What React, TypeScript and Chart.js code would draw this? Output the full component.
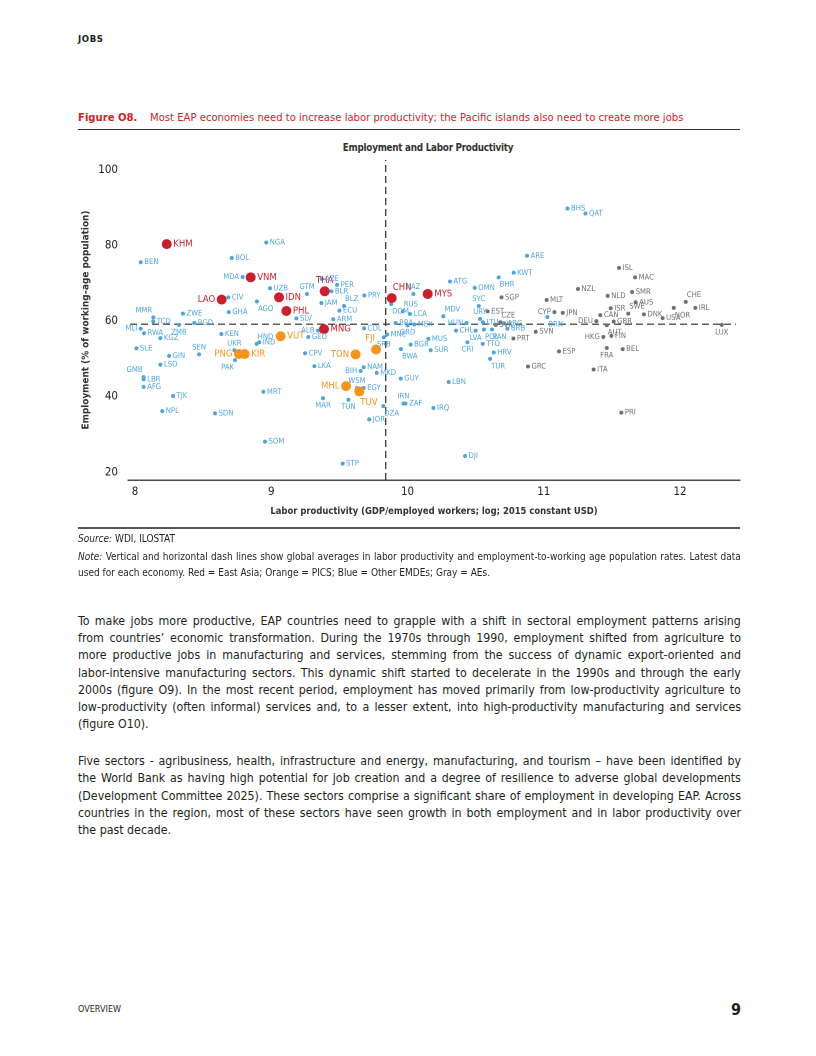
import React, { useEffect, useRef } from 'react';
import { Chart, registerables } from 'chart.js';

Chart.register(...registerables);

// ---------- DATA ----------
const xTicks = [8, 9, 10, 11, 12];
const yTicks = [20, 40, 60, 80, 100];
const globalAvgProductivity = 9.84;
const globalAvgEmployment = 59.2;

// East Asia (red)
const eastAsiaCodes = ['KHM', 'VNM', 'LAO', 'IDN', 'PHL', 'THA', 'MNG', 'CHN', 'MYS'];
const eastAsiaProductivity = [8.233, 8.849, 8.636, 9.057, 9.111, 9.392, 9.387, 9.884, 10.148];
const eastAsiaEmployment = [80.4, 71.6, 65.7, 66.3, 62.7, 67.9, 57.9, 66.1, 67.2];

// Pacific island countries (orange)
const picsCodes = ['PNG', 'KIR', 'VUT', 'TON', 'FJI', 'MHL', 'TUV'];
const picsProductivity = [8.763, 8.805, 9.069, 9.619, 9.769, 9.549, 9.646];
const picsEmployment = [51.3, 51.3, 56.0, 51.2, 52.5, 42.8, 41.4];

// Other EMDEs (blue)
const emdeCodes = [
  'BEN', 'BOL', 'NGA', 'MDA', 'CIV', 'UZB', 'AGO', 'GHA', 'MMR', 'TCD', 'ZWE', 'BGD', 'ZMB', 'MLI', 'RWA',
  'KGZ', 'KEN', 'UKR', 'PAK', 'SLE', 'GIN', 'SEN', 'LSO', 'GMB', 'LBR', 'AFG', 'TJK', 'NPL', 'SDN', 'GTM',
  'AZE', 'PER', 'BLR', 'JAM', 'BLZ', 'ECU', 'ARM', 'SLV', 'PRY', 'ALB', 'GEO', 'HND', 'IND', 'CPV', 'LKA',
  'COL', 'NAM', 'BIH', 'MKD', 'WSM', 'EGY', 'MRT', 'MAR', 'TUN', 'DZA', 'JOR', 'SOM', 'STP', 'MNE', 'SRB',
  'KAZ', 'DOM', 'RUS', 'LCA', 'BRA', 'MEX', 'GRD', 'MUS', 'BGR', 'BWA', 'SUR', 'MDV', 'ATG', 'OMN', 'BHR',
  'KWT', 'ARE', 'SYC', 'URY', 'HUN', 'CHL', 'LVA', 'POL', 'LTU', 'CRI', 'TTO', 'HRV', 'TUR', 'ARG', 'BRB',
  'PAN', 'GUY', 'LBN', 'IRN', 'ZAF', 'IRQ', 'DJI', 'BHS', 'QAT', 'BRN',
];
const emdeProductivity = [
  8.042, 8.71, 8.963, 8.79, 8.685, 8.991, 8.895, 8.688, 8.134, 8.134, 8.352, 8.435, 8.323, 8.042, 8.066,
  8.186, 8.634, 8.729, 8.734, 8.01, 8.25, 8.47, 8.186, 8.063, 8.063, 8.063, 8.279, 8.2, 8.587, 9.262,
  9.37, 9.483, 9.441, 9.368, 9.534, 9.5, 9.455, 9.184, 9.683, 9.343, 9.272, 8.893, 8.912, 9.248, 9.316,
  9.681, 9.678, 9.656, 9.774, 9.629, 9.678, 8.942, 9.38, 9.566, 9.822, 9.719, 8.954, 9.524, 9.85, 9.826,
  10.043, 9.88, 9.965, 10.018, 9.913, 10.05, 10.0, 10.153, 10.023, 9.952, 10.17, 10.263, 10.312, 10.493, 10.669,
  10.779, 10.877, 10.523, 10.532, 10.434, 10.356, 10.5, 10.561, 10.554, 10.44, 10.552, 10.633, 10.606, 10.708, 10.733,
  10.62, 9.95, 10.302, 9.97, 9.985, 10.19, 10.422, 11.174, 11.306, 11.026,
];
const emdeEmployment = [
  75.6, 76.7, 80.8, 71.7, 66.3, 68.7, 65.2, 62.4, 61.0, 59.9, 62.0, 59.5, 59.0, 58.0, 56.8,
  55.5, 56.6, 52.3, 49.7, 52.8, 50.8, 51.2, 48.5, 45.2, 44.6, 42.6, 40.2, 36.2, 35.6, 67.2,
  71.2, 69.6, 67.9, 64.8, 64.0, 62.8, 60.5, 60.7, 66.8, 57.5, 55.8, 54.0, 54.4, 51.5, 48.1,
  58.1, 47.8, 46.8, 46.3, 42.3, 42.3, 41.3, 39.6, 39.2, 37.5, 34.0, 28.1, 22.3, 56.5, 55.7,
  67.2, 64.5, 62.6, 61.9, 59.5, 59.1, 58.9, 55.3, 53.8, 52.6, 52.3, 61.3, 70.5, 68.8, 71.6,
  72.8, 77.3, 64.0, 60.6, 59.5, 57.5, 57.5, 57.8, 59.7, 54.4, 54.0, 51.7, 50.0, 59.4, 58.0,
  57.8, 44.8, 43.9, 38.2, 38.2, 37.0, 24.3, 89.8, 88.5, 61.1,
];

// Advanced economies (gray)
const aeCodes = [
  'SGP', 'EST', 'CZE', 'SVK', 'PRT', 'GRC', 'ISL', 'MAC', 'NZL', 'MLT', 'NLD', 'SMR', 'AUS', 'CHE', 'NOR',
  'IRL', 'ISR', 'SWE', 'DNK', 'USA', 'CYP', 'JPN', 'CAN', 'DEU', 'GBR', 'AUT', 'LUX', 'SVN', 'HKG', 'FIN',
  'FRA', 'BEL', 'ESP', 'ITA', 'PRI',
];
const aeProductivity = [
  10.69, 10.588, 10.681, 10.647, 10.777, 10.884, 11.552, 11.67, 11.251, 11.021, 11.469, 11.648, 11.674, 12.042, 11.954,
  12.112, 11.491, 11.62, 11.735, 11.872, 11.078, 11.139, 11.415, 11.386, 11.513, 11.462, 12.306, 10.941, 11.437, 11.496,
  11.462, 11.579, 11.112, 11.366, 11.569,
];
const aeEmployment = [
  66.3, 62.6, 59.7, 59.0, 55.4, 48.0, 74.1, 71.6, 68.5, 65.6, 66.7, 67.7, 65.0, 65.1, 63.5,
  63.5, 63.4, 62.0, 61.8, 60.8, 62.4, 62.2, 61.6, 60.0, 59.9, 58.9, 59.0, 57.2, 55.8, 56.1,
  52.9, 52.6, 52.0, 47.2, 35.8,
];

// ---------- STYLE ----------
const RED = '#c8202f';
const ORANGE = '#f7941d';
const BLUE = '#4ea5de';
const GRAY = '#707173';
const FONT = '"DejaVu Sans Condensed", "Liberation Sans Narrow", sans-serif';

// label placement relative to the dot (default: right)
const labelSide: Record<string, string> = {
  LAO: 'l', MLI: 'l', MDA: 'l', MMR: 'tl', GMB: 'tl', PNG: 'l', UKR: 't', PAK: 'bl', SEN: 't', ZMB: 'b',
  HND: 'tr', ALB: 'l', TON: 'l', FJI: 'tl', BIH: 'l', MHL: 'l', WSM: 't', TUV: 'br', MAR: 'b', TUN: 'b',
  DZA: 'br', GTM: 't', THA: 't', BLZ: 'tr', AGO: 'br', CHN: 'tr', KAZ: 't', DOM: 'br', RUS: 'tr', GRD: 'b',
  SRB: 'b', BWA: 'br', MDV: 'tr', HUN: 'l', LVA: 'b', POL: 'br', CRI: 'b', TUR: 'br', URY: 't', SYC: 't',
  CZE: 'tr', PAN: 'br', BHR: 'br', CHE: 'tr', NOR: 'br', SWE: 'tr', CYP: 'l', BRN: 'br', DEU: 'l', AUT: 'br',
  LUX: 'b', HKG: 'l', FRA: 'b', IRN: 't',
};

const toPoints = (xs: number[], ys: number[]) => xs.map((x, i) => ({ x, y: ys[i] }));

const X_MIN = 7.9486;
const X_MAX = 12.44;
const Y_MIN = 17.96;
const Y_MAX = 102.65;

const labelPlugin = {
  id: 'pointLabels',
  afterDatasetsDraw(chart: any) {
    const ctx = chart.ctx;
    chart.data.datasets.forEach((ds: any, di: number) => {
      if (!ds.codes) return;
      const meta = chart.getDatasetMeta(di);
      ctx.save();
      ctx.font = ds.labelFont;
      ctx.fillStyle = ds.labelColor;
      const r = ds.pointRadius;
      meta.data.forEach((el: any, i: number) => {
        const code = ds.codes[i];
        const side = labelSide[code] || 'r';
        let x = el.x;
        let y = el.y;
        const g = r + 1.5;
        switch (side) {
          case 'l':
            ctx.textAlign = 'right'; ctx.textBaseline = 'middle'; x -= g; break;
          case 't':
            ctx.textAlign = 'center'; ctx.textBaseline = 'bottom'; y -= g - 0.5; break;
          case 'b':
            ctx.textAlign = 'center'; ctx.textBaseline = 'top'; y += g; break;
          case 'tr':
            ctx.textAlign = 'left'; ctx.textBaseline = 'bottom'; x += 1; y -= g - 0.5; break;
          case 'tl':
            ctx.textAlign = 'right'; ctx.textBaseline = 'bottom'; x -= 1; y -= g - 0.5; break;
          case 'br':
            ctx.textAlign = 'left'; ctx.textBaseline = 'top'; x += 1; y += g; break;
          case 'bl':
            ctx.textAlign = 'right'; ctx.textBaseline = 'top'; x -= 1; y += g; break;
          default:
            ctx.textAlign = 'left'; ctx.textBaseline = 'middle'; x += g;
        }
        ctx.fillText(code, x, y);
      });
      ctx.restore();
    });
  },
};

function ScatterChart() {
  const ref = useRef<HTMLCanvasElement | null>(null);
  useEffect(() => {
    if (!ref.current) return;
    Chart.defaults.font.family = FONT;
    const groups = [
      { codes: eastAsiaCodes, xs: eastAsiaProductivity, ys: eastAsiaEmployment, color: RED, r: 5, font: `9.5px ${FONT}` },
      { codes: picsCodes, xs: picsProductivity, ys: picsEmployment, color: ORANGE, r: 5, font: `9.5px ${FONT}` },
      { codes: emdeCodes, xs: emdeProductivity, ys: emdeEmployment, color: BLUE, r: 2, font: `7.7px ${FONT}` },
      { codes: aeCodes, xs: aeProductivity, ys: aeEmployment, color: GRAY, r: 2, font: `7.7px ${FONT}` },
    ];
    const datasets: any[] = groups.map((g) => ({
      data: toPoints(g.xs, g.ys),
      codes: g.codes,
      labelColor: g.color,
      labelFont: g.font,
      pointRadius: g.r,
      pointHoverRadius: g.r,
      pointBackgroundColor: g.color,
      pointBorderWidth: 0,
      borderColor: g.color,
      showLine: false,
    }));
    datasets.push({
      data: [{ x: globalAvgProductivity, y: Y_MIN }, { x: globalAvgProductivity, y: Y_MAX }],
      showLine: true,
      borderColor: '#2b2b2b',
      borderWidth: 1.2,
      borderDash: [7, 4],
      pointRadius: 0,
    });
    datasets.push({
      data: [{ x: X_MIN + 0.015, y: globalAvgEmployment }, { x: X_MAX - 0.03, y: globalAvgEmployment }],
      showLine: true,
      borderColor: '#2b2b2b',
      borderWidth: 1.2,
      borderDash: [7, 4],
      pointRadius: 0,
    });

    const chart = new Chart(ref.current, {
      type: 'scatter',
      data: { datasets },
      plugins: [labelPlugin],
      options: {
        animation: false,
        responsive: false,
        devicePixelRatio: 2,
        layout: { padding: { top: 24, right: 0, bottom: 8, left: 0 } },
        plugins: { legend: { display: false }, tooltip: { enabled: false }, title: { display: false } },
        scales: {
          x: {
            type: 'linear',
            min: X_MIN,
            max: X_MAX,
            afterBuildTicks: (s: any) => { s.ticks = xTicks.map((v) => ({ value: v })); },
            afterFit: (s: any) => { s.height = 40; },
            grid: { display: true, color: 'rgba(0,0,0,0)', drawTicks: false, drawOnChartArea: false },
            border: { display: true, color: '#4d4d4d', width: 1.5 },
            ticks: { color: '#222', font: { size: 11.5 }, padding: 5, maxRotation: 0 },
            title: {
              display: true,
              text: 'Labor productivity (GDP/employed workers; log; 2015 constant USD)',
              color: '#333',
              font: { size: 9.4, weight: 'bold' },
              padding: { top: 0, bottom: 3 },
            },
          },
          y: {
            type: 'linear',
            min: Y_MIN,
            max: Y_MAX,
            afterBuildTicks: (s: any) => { s.ticks = yTicks.map((v) => ({ value: v })); },
            afterFit: (s: any) => { s.width = 50; },
            grid: { display: true, color: 'rgba(0,0,0,0)', drawTicks: false, drawOnChartArea: false },
            border: { display: false },
            ticks: { color: '#222', font: { size: 11.5 }, padding: 10 },
            title: {
              display: true,
              text: 'Employment (% of working–age population)',
              color: '#333',
              font: { size: 9.9, weight: 'bold' },
              padding: { top: 2, bottom: 0 },
            },
          },
        },
      } as any,
    });
    return () => chart.destroy();
  }, []);
  return <canvas ref={ref} width={667} height={392} style={{ width: 667, height: 392, display: 'block' }} />;
}

const para1 = [
  'To make jobs more productive, EAP countries need to grapple with a shift in sectoral employment patterns arising',
  'from countries’ economic transformation. During the 1970s through 1990, employment shifted from agriculture to',
  'more productive jobs in manufacturing and services, stemming from the success of dynamic export-oriented and',
  'labor-intensive manufacturing sectors. This dynamic shift started to decelerate in the 1990s and through the early',
  '2000s (figure O9). In the most recent period, employment has moved primarily from low-productivity agriculture to',
  'low-productivity (often informal) services and, to a lesser extent, into high-productivity manufacturing and services',
  '(figure O10).',
];
const para2 = [
  'Five sectors - agribusiness, health, infrastructure and energy, manufacturing, and tourism – have been identified by',
  'the World Bank as having high potential for job creation and a degree of resilience to adverse global developments',
  '(Development Committee 2025). These sectors comprise a significant share of employment in developing EAP. Across',
  'countries in the region, most of these sectors have seen growth in both employment and in labor productivity over',
  'the past decade.',
];
const noteLines = [
  'Note: Vertical and horizontal dash lines show global averages in labor productivity and employment-to-working age population rates. Latest data',
  'used for each economy. Red = East Asia; Orange = PICS; Blue = Other EMDEs; Gray = AEs.',
];

function Lines({ lines, top, size, lh, italicFirst }: { lines: string[]; top: number; size: number; lh: number; italicFirst?: boolean }) {
  return (
    <div style={{ position: 'absolute', left: 78, top, width: 663, fontSize: size, lineHeight: `${lh}px`, color: '#231f20' }}>
      {lines.map((l, i) => {
        const last = i === lines.length - 1;
        const words = l.split(' ');
        return (
          <div
            key={i}
            style={{
              display: 'flex',
              justifyContent: last ? 'flex-start' : 'space-between',
              whiteSpace: 'pre',
              height: lh,
            }}
          >
            {words.map((w, j) => (
              <span key={j} style={{ fontStyle: italicFirst && i === 0 && j === 0 ? 'italic' : 'normal' }}>
                {last && j < words.length - 1 ? w + ' ' : w}
              </span>
            ))}
          </div>
        );
      })}
    </div>
  );
}

export default function App() {
  return (
    <div style={{ position: 'absolute', left: 0, top: 0, width: 816, height: 1056, background: '#fff', fontFamily: FONT, color: '#231f20' }}>
      <div style={{ position: 'absolute', left: 78, top: 33, fontSize: 9.5, fontWeight: 'bold', letterSpacing: 0.6 }}>JOBS</div>
      <div style={{ position: 'absolute', left: 78, top: 111, fontSize: 11.2, color: '#d2232a', whiteSpace: 'nowrap' }}>
        <span style={{ fontWeight: 'bold' }}>Figure O8.</span>
        <span style={{ position: 'absolute', left: 72 }}>
          Most EAP economies need to increase labor productivity; the Pacific islands also need to create more jobs
        </span>
      </div>
      <div style={{ position: 'absolute', left: 78, top: 129, width: 662, height: 1, background: '#333' }} />
      <div style={{ position: 'absolute', left: 278, top: 142, width: 300, textAlign: 'center', fontSize: 9.8, letterSpacing: -0.25, fontWeight: 'bold', color: '#333' }}>
        Employment and Labor Productivity
      </div>
      <div style={{ position: 'absolute', left: 78, top: 136 }}>
        <ScatterChart />
      </div>
      <div style={{ position: 'absolute', left: 78, top: 527, width: 662, height: 1.5, background: '#555' }} />
      <div style={{ position: 'absolute', left: 78, top: 533, fontSize: 10 }}>
        <i>Source:</i> WDI, ILOSTAT
      </div>
      <Lines lines={noteLines} top={549} size={10} lh={16} italicFirst />
      <Lines lines={para1} top={613} size={12.3} lh={17.2} />
      <Lines lines={para2} top={753} size={12.3} lh={17.3} />
      <div style={{ position: 'absolute', left: 78, top: 1004, fontSize: 9 }}>OVERVIEW</div>
      <div style={{ position: 'absolute', left: 700, width: 41, textAlign: 'right', top: 1000, fontSize: 16, fontWeight: 'bold' }}>9</div>
    </div>
  );
}
